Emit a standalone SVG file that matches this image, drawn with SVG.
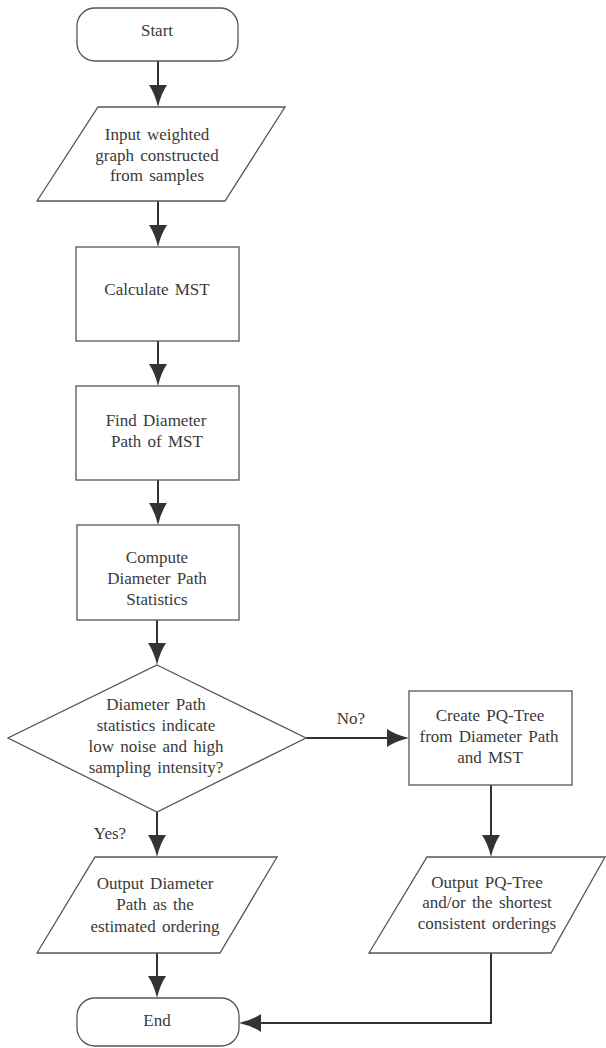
<svg xmlns="http://www.w3.org/2000/svg" width="606" height="1048" viewBox="0 0 606 1048">
<defs>
<style>
.n{fill:#fff;stroke:#555;stroke-width:1.3}
.t{font-family:'Liberation Serif','DejaVu Serif',serif;font-size:17px;fill:#3a3a3a;text-anchor:middle;word-spacing:2px}
.c{fill:none;stroke:#333;stroke-width:2}
</style>
<marker id="ah" viewBox="0 0 22 18" refX="12" refY="9" markerWidth="22" markerHeight="18" markerUnits="userSpaceOnUse" orient="auto">
<path d="M0,0 Q9,6 22,9 Q9,12 0,18 Z" fill="#333"/>
</marker>
</defs>
<rect width="606" height="1048" fill="#fff"/>
<g id="connectors">
<path class="c" d="M158,61 V97" marker-end="url(#ah)"/>
<path class="c" d="M158,201 V237" marker-end="url(#ah)"/>
<path class="c" d="M158,341 V376" marker-end="url(#ah)"/>
<path class="c" d="M158,480 V515" marker-end="url(#ah)"/>
<path class="c" d="M157,620 V655" marker-end="url(#ah)"/>
<path class="c" d="M157,812 V847" marker-end="url(#ah)"/>
<path class="c" d="M306,738 H399" marker-end="url(#ah)"/>
<path class="c" d="M491,785 V847" marker-end="url(#ah)"/>
<path class="c" d="M157,953 V988" marker-end="url(#ah)"/>
<path class="c" d="M491,953 V1023 H249" marker-end="url(#ah)"/>
<text class="t" x="351" y="724" font-family="Liberation Serif, serif">No?</text>
<text class="t" x="110" y="839" font-family="Liberation Serif, serif">Yes?</text>
</g>
<g id="start">
<rect class="n" x="77" y="8" width="161" height="53" rx="18"/>
<text class="t" x="157" y="36">Start</text>
</g>
<g id="input">
<polygon class="n" points="98,107 285,107 225,201 37,201"/>
<text class="t" x="157" y="140">Input weighted</text>
<text class="t" x="157" y="161">graph constructed</text>
<text class="t" x="157" y="181">from samples</text>
</g>
<g id="calc-mst">
<rect class="n" x="76" y="247" width="163" height="94"/>
<text class="t" x="157" y="295">Calculate  MST</text>
</g>
<g id="find-diameter">
<rect class="n" x="76" y="386" width="163" height="94"/>
<text class="t" x="156" y="426">Find Diameter</text>
<text class="t" x="157" y="447">Path of MST</text>
</g>
<g id="compute-stats">
<rect class="n" x="77" y="525" width="162" height="95"/>
<text class="t" x="157" y="563">Compute</text>
<text class="t" x="157" y="584">Diameter  Path</text>
<text class="t" x="157" y="605">Statistics</text>
</g>
<g id="decision">
<polygon class="n" points="157,665 306,738 157,812 8,738"/>
<text class="t" x="156" y="710">Diameter  Path</text>
<text class="t" x="156" y="731">statistics indicate</text>
<text class="t" x="156" y="752">low noise and high</text>
<text class="t" x="156" y="773">sampling  intensity?</text>
</g>
<g id="create-pq">
<rect class="n" x="409" y="691" width="163" height="94"/>
<text class="t" x="490" y="721">Create PQ-Tree</text>
<text class="t" x="489" y="742">from Diameter  Path</text>
<text class="t" x="490" y="763">and MST</text>
</g>
<g id="output-diameter">
<polygon class="n" points="95,857 277,857 220,953 37,953"/>
<text class="t" x="155" y="889">Output  Diameter</text>
<text class="t" x="155" y="910">Path as the</text>
<text class="t" x="155" y="932">estimated  ordering</text>
</g>
<g id="output-pq">
<polygon class="n" points="427,857 605,857 551,953 369,953"/>
<text class="t" x="487" y="888">Output  PQ-Tree</text>
<text class="t" x="487" y="908">and/or  the shortest</text>
<text class="t" x="487" y="929">consistent  orderings</text>
</g>
<g id="end">
<rect class="n" x="77" y="998" width="162" height="48" rx="18"/>
<text class="t" x="157" y="1026">End</text>
</g>
</svg>
